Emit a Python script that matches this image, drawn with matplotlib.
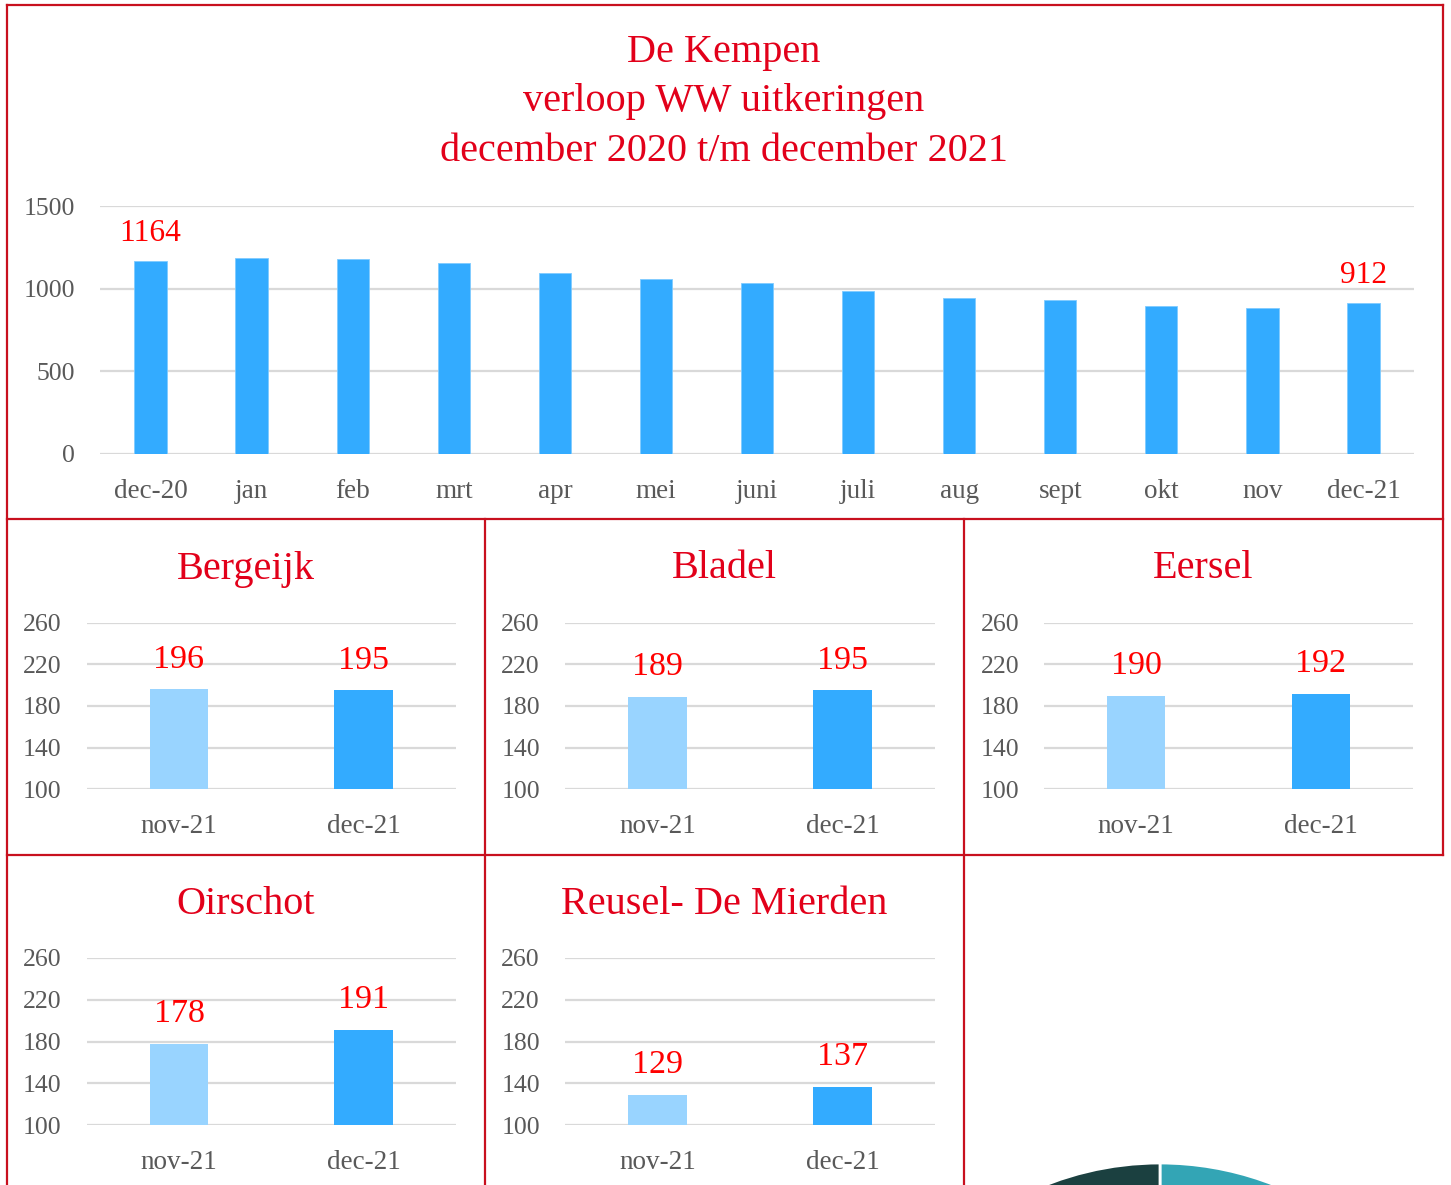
import matplotlib
matplotlib.use("Agg")
import matplotlib.pyplot as plt
from matplotlib.lines import Line2D

plt.rcParams['font.family'] = ['Liberation Serif', 'DejaVu Serif']

# ---------------- data ----------------
main_categories = ["dec-20", "jan", "feb", "mrt", "apr", "mei", "juni", "juli",
                   "aug", "sept", "okt", "nov", "dec-21"]
main_values = [1164, 1184, 1180, 1156, 1093, 1059, 1035, 984, 944, 932, 897, 881, 912]
main_yticks = [0, 500, 1000, 1500]
main_title = "De Kempen\nverloop WW uitkeringen\ndecember 2020 t/m december 2021"

sub_categories = ["nov-21", "dec-21"]
sub_yticks = [100, 140, 180, 220, 260]
municipalities = ["Bergeijk", "Bladel", "Eersel", "Oirschot", "Reusel- De Mierden"]
bergeijk = [196, 195]
bladel = [189, 195]
eersel = [190, 192]
oirschot = [178, 191]
reusel = [129, 137]
sub_values = [bergeijk, bladel, eersel, oirschot, reusel]

pie_values = [195, 195, 192, 191, 137]  # dec-21 per municipality

# ---------------- style ----------------
W, H = 1451, 1185
DPI = 100
BAR = "#33ABFF"
BAR_LIGHT = "#99D4FF"
GRID = "#D9D9D9"
TICK = "#595959"
TITLE_RED = "#E2001A"
VAL_RED = "#FF0000"
BORDER = "#C8101E"

fig = plt.figure(figsize=(W / DPI, H / DPI), dpi=DPI)
fig.patch.set_facecolor("white")


def px_axes(left, top, right, bottom, **kw):
    return fig.add_axes([left / W, 1 - bottom / H, (right - left) / W, (bottom - top) / H], **kw)


def style_axes(ax, yticks, ylim, tick_pad_x):
    ax.set_ylim(*ylim)
    ax.set_yticks(yticks)
    ax.yaxis.grid(True, color=GRID, linewidth=1.6)
    ax.set_axisbelow(True)
    for s in ax.spines.values():
        s.set_visible(False)
    ax.tick_params(axis="both", length=0, labelcolor=TICK)
    ax.tick_params(axis="y", pad=tick_pad_x, labelsize=18.5)
    ax.tick_params(axis="x", labelsize=19.5)


# ---------------- borders ----------------
def border_line(x0, y0, x1, y1):
    fig.add_artist(Line2D([x0 / W, x1 / W], [1 - y0 / H, 1 - y1 / H],
                          color=BORDER, linewidth=1.6, transform=fig.transFigure))

border_line(7, 5, 1443, 5)
border_line(7, 5, 7, 1185)
border_line(1443, 5, 1443, 855)
border_line(7, 519, 1443, 519)
border_line(7, 855, 1443, 855)
border_line(485, 519, 485, 1185)
border_line(964, 519, 964, 1185)

# ---------------- main chart ----------------
fig.text(724 / W, 1 - 102 / H, main_title, ha="center", va="center",
         color=TITLE_RED, fontsize=29, linespacing=1.45)

ax = px_axes(100, 206, 1414, 453.7)
x = list(range(len(main_categories)))
ax.bar(x, main_values, width=0.32, color=BAR, edgecolor="#7FCBFF", linewidth=0.6)
ax.set_xlim(-0.5, len(main_categories) - 0.5)
ax.set_xticks(x)
ax.set_xticklabels(main_categories)
style_axes(ax, main_yticks, (0, 1500), 18)
ax.tick_params(axis="x", pad=18)
for i in (0, len(main_values) - 1):
    ax.annotate(str(main_values[i]), (x[i], main_values[i]), xytext=(0, 28),
                textcoords="offset pixels", ha="center", va="center",
                color=VAL_RED, fontsize=22.7)

# ---------------- small charts ----------------
boxes = [
    (7, 485, 519, 569, 86.7, 455.7, 622.7, 789.3),
    (485, 964, 519, 569, 565, 935, 622.7, 789.3),
    (964, 1443, 519, 569, 1044, 1413, 622.7, 789.3),
    (7, 485, 855, 904, 86.7, 455.7, 957.7, 1125.3),
    (485, 964, 855, 904, 565, 935, 957.7, 1125.3),
]
for name, vals, (bx0, bx1, by0, ty, l, r, t, b) in zip(municipalities, sub_values, boxes):
    fig.text((bx0 + bx1) / 2 / W, 1 - ty / H, name, ha="center", va="center",
             color=TITLE_RED, fontsize=29)
    sax = px_axes(l, t, r, b)
    xs = list(range(len(sub_categories)))
    sax.bar(xs, [v - 100 for v in vals], bottom=100, width=0.315,
            color=[BAR_LIGHT, BAR])
    sax.set_xlim(-0.5, 1.5)
    sax.set_xticks(xs)
    sax.set_xticklabels(sub_categories)
    style_axes(sax, sub_yticks, (100, 260), 18)
    sax.tick_params(axis="x", pad=18)
    for xi, v in zip(xs, vals):
        sax.annotate(str(v), (xi, v), xytext=(0, 30), textcoords="offset pixels",
                     ha="center", va="center", color=VAL_RED, fontsize=24.5)

# ---------------- partial pie (bottom right) ----------------
pcx, pcy, pr = 1160, 1474, 311
pax = px_axes(pcx - pr, pcy - pr, pcx + pr, pcy + pr)
pax.pie(pie_values, startangle=90, counterclock=False,
        colors=["#33A5B5", "#2E7F8C", "#5BC0CC", "#24606A", "#1B4040"],
        wedgeprops=dict(edgecolor="white", linewidth=2))
pax.set_aspect("equal")
pax.set_xlim(-1, 1)
pax.set_ylim(-1, 1)
pax.axis("off")

fig.savefig("out.png", dpi=DPI, facecolor="white")
